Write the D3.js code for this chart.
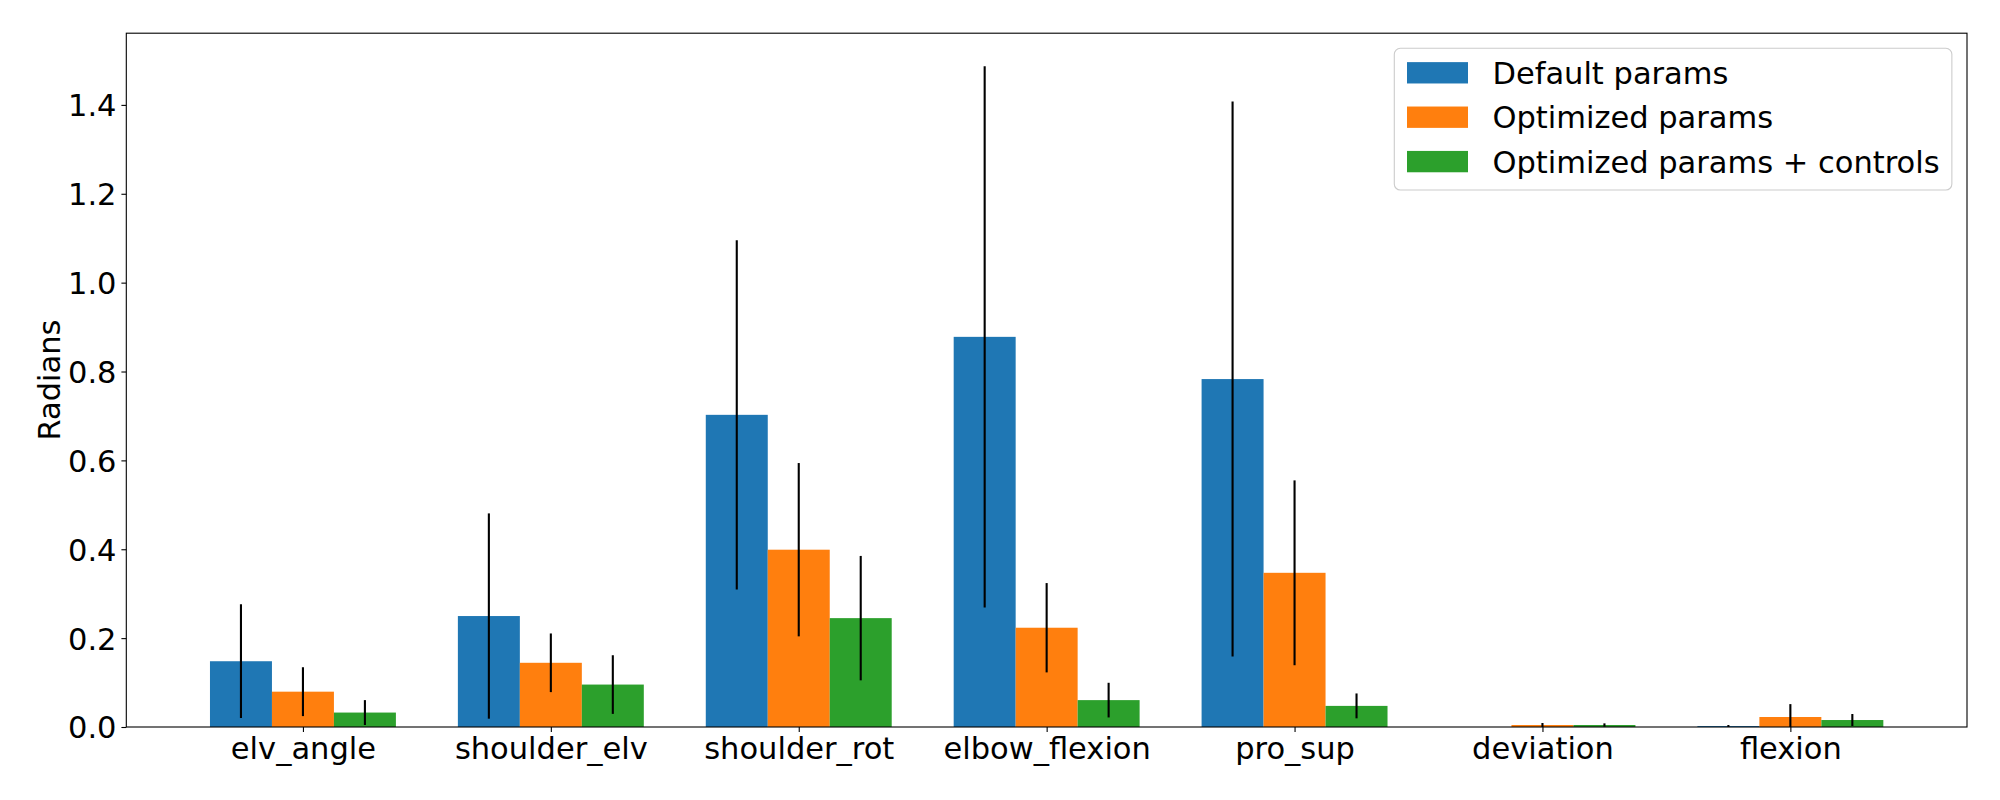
<!DOCTYPE html>
<html>
    <head>
        <meta charset="utf-8"/>
        <script src="https://cdnjs.cloudflare.com/ajax/libs/d3/7.8.5/d3.min.js"></script>
        <style>
            body { margin: 0; background: #fff; }
            text { font-family: "DejaVu Sans", sans-serif; }
        </style>
    </head>
    <body>
        <script>
            // joints on the x axis
            const categories = ['elv_angle', 'shoulder_elv', 'shoulder_rot', 'elbow_flexion', 'pro_sup', 'deviation', 'flexion']
            const seriesNames = ['Default params', 'Optimized params', 'Optimized params + controls']
            const colors = ['#1f77b4', '#ff7f0e', '#2ca02c']

            // mean error per joint (radians) and its spread (error bar half length)
            const defaultMean   = [0.148, 0.2497, 0.7025, 0.878, 0.783, 0.0, 0.0022]
            const defaultStd    = [0.128, 0.231, 0.393, 0.609, 0.6245, 0.0, 0.0023]
            const optimizedMean = [0.0795, 0.1445, 0.399, 0.2234, 0.347, 0.0045, 0.0225]
            const optimizedStd  = [0.055, 0.066, 0.195, 0.1005, 0.208, 0.0045, 0.029]
            const controlsMean  = [0.0325, 0.0955, 0.245, 0.0605, 0.0475, 0.0045, 0.0157]
            const controlsStd   = [0.028, 0.066, 0.14, 0.039, 0.028, 0.0037, 0.0135]

            const yTicks = [0.0, 0.2, 0.4, 0.6, 0.8, 1.0, 1.2, 1.4]

            const means = [defaultMean, optimizedMean, controlsMean]
            const stds = [defaultStd, optimizedStd, controlsStd]

            const width = 2000, height = 800
            const margin = {top: 33.2, right: 33, bottom: 73, left: 126.3}
            const fs = 30.5
            const barW = 0.25

            // flat list of bars
            const bars = []
            means.forEach((m, s) => m.forEach((v, i) => {
                bars.push({s: s, i: i, x: i + (s - 1) * barW, v: v, e: stds[s][i]})
            }))

            // matplotlib-like autoscale: 5% margins
            const xMin = -1 * barW * 1.5, xMax = categories.length - 1 + barW * 1.5
            const xPad = (xMax - xMin) * 0.05
            const yTop = d3.max(bars, d => d.v + d.e)

            const x = d3.scaleLinear()
                .domain([xMin - xPad, xMax + xPad])
                .range([margin.left, width - margin.right])
            const y = d3.scaleLinear()
                .domain([0, yTop * 1.05])
                .range([height - margin.bottom, margin.top])

            const svg = d3.select('body').append('svg')
                .attr('width', width)
                .attr('height', height)

            svg.append('clipPath').attr('id', 'plot')
                .append('rect')
                .attr('x', margin.left).attr('y', margin.top)
                .attr('width', width - margin.left - margin.right)
                .attr('height', height - margin.top - margin.bottom)

            const plot = svg.append('g').attr('clip-path', 'url(#plot)')

            plot.selectAll('rect.bar')
                .data(bars)
                .join('rect')
                .attr('class', 'bar')
                .attr('x', d => x(d.x - barW / 2))
                .attr('width', d => x(d.x + barW / 2) - x(d.x - barW / 2))
                .attr('y', d => y(d.v))
                .attr('height', d => y(0) - y(d.v))
                .attr('fill', d => colors[d.s])

            plot.selectAll('line.err')
                .data(bars.filter(d => d.e > 0))
                .join('line')
                .attr('class', 'err')
                .attr('x1', d => x(d.x)).attr('x2', d => x(d.x))
                .attr('y1', d => y(d.v - d.e))
                .attr('y2', d => y(d.v + d.e))
                .attr('stroke', '#000')
                .attr('stroke-width', 2.1)

            // axes
            const yAxis = svg.append('g')
                .attr('transform', `translate(${margin.left},0)`)
                .call(d3.axisLeft(y).tickValues(yTicks).tickFormat(d3.format('.1f')).tickSize(4.9).tickPadding(4.9))
            const xAxis = svg.append('g')
                .attr('transform', `translate(0,${height - margin.bottom})`)
                .call(d3.axisBottom(x).tickValues(d3.range(categories.length)).tickFormat(i => categories[i]).tickSize(4.9).tickPadding(4.9))

            for (const ax of [xAxis, yAxis]) {
                ax.select('.domain').remove()
                ax.selectAll('line').attr('stroke', '#000').attr('stroke-width', 1.1)
                ax.selectAll('text')
                    .attr('font-family', '"DejaVu Sans", sans-serif')
                    .attr('font-size', fs)
                    .attr('fill', '#000')
            }
            yAxis.selectAll('text').attr('dy', '0.36em')
            xAxis.selectAll('text').attr('dy', '0.73em')

            svg.append('rect')
                .attr('x', margin.left).attr('y', margin.top)
                .attr('width', width - margin.left - margin.right)
                .attr('height', height - margin.top - margin.bottom)
                .attr('fill', 'none')
                .attr('stroke', '#000')
                .attr('stroke-width', 1.1)

            svg.append('text')
                .attr('transform', `translate(60,${(margin.top + height - margin.bottom) / 2}) rotate(-90)`)
                .attr('text-anchor', 'middle')
                .attr('font-size', fs)
                .text('Radians')

            // legend, upper right
            const legend = svg.append('g')
            const frame = legend.append('rect')
                .attr('fill', '#fff')
                .attr('fill-opacity', 0.8)
                .attr('stroke', '#cccccc')
                .attr('stroke-width', 1.1)
                .attr('rx', 6)
            const legX = 1394.3, legY = 48.3
            const rows = legend.selectAll('g.row')
                .data(seriesNames)
                .join('g')
                .attr('class', 'row')
                .attr('transform', (d, i) => `translate(${legX + 12.7},${legY + 24.5 + i * 44.4})`)
            rows.append('rect')
                .attr('y', -0.35 * fs)
                .attr('width', 2 * fs)
                .attr('height', 0.7 * fs)
                .attr('fill', (d, i) => colors[i])
            rows.append('text')
                .attr('x', 2.8 * fs)
                .attr('dy', '0.36em')
                .attr('font-size', fs)
                .text(d => d)

            let textW = 0
            rows.selectAll('text').each(function () { textW = Math.max(textW, this.getComputedTextLength()) })
            frame.attr('x', legX).attr('y', legY)
                .attr('width', 12.7 + 2.8 * fs + textW + 12.2)
                .attr('height', 141.7)
        </script>
    </body>
</html>
